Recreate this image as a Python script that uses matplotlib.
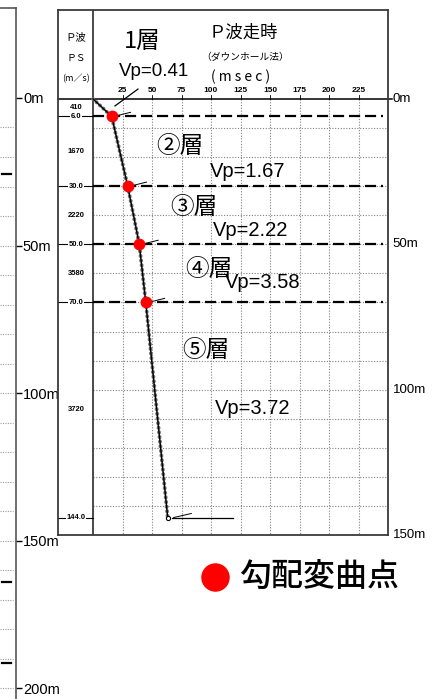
import matplotlib
matplotlib.use("Agg")
import matplotlib.pyplot as plt

plt.rcParams["font.family"] = ["Noto Sans CJK JP", "DejaVu Sans"]

# layer boundaries (m) and first-arrival time there (msec)
break_depth = [0, 6.0, 30.0, 50.0, 70.0, 144.0]
break_time = [0, 15.8, 29.4, 39.2, 44.7, 63.3]
layer_vp = [410, 1670, 2220, 3580, 3720]  # m/s
layer_names = ["1層", "②層", "③層", "④層", "⑤層"]
time_ticks = [25, 50, 75, 100, 125, 150, 175, 200, 225]
depth_ticks = [0, 50, 100, 150]
strip_ticks = [0, 50, 100, 150, 200]
strip_marks = [25.8, 164, 191.5]
legend_label = "勾配変曲点"

# text placement (ms, m)
name_pos = [(41.5, -19.6), (73.7, 16.5), (85.6, 37.5), (98.3, 58.8), (95.8, 86.6)]
vp_pos = [(51.3, -9.6), (131.4, 25.1), (133.9, 45.4), (144.1, 63.2), (135.6, 106.5)]

W, H = 444, 699
fig = plt.figure(figsize=(W / 100, H / 100), dpi=100)


def box(x0, y0, x1, y1):
    return [x0 / W, 1 - y1 / H, (x1 - x0) / W, (y1 - y0) / H]


# ---- left depth strip
sx = fig.add_axes(box(0, 8, 16, 699))
sx.set_xlim(0, 1)
sx.set_ylim(203.7, -30.5)
sx.spines["left"].set_visible(False)
sx.spines["bottom"].set_visible(False)
for s in ("top", "right"):
    sx.spines[s].set_color("#555555")
    sx.spines[s].set_linewidth(1.2)
sx.set_xticks([])
sx.yaxis.tick_right()
sx.set_yticks(strip_ticks)
sx.set_yticklabels([f"{d}m" for d in strip_ticks], family="Liberation Sans", fontsize=10.5)
sx.tick_params(axis="y", length=4, width=1, pad=1)
for d in range(10, 204, 10):
    sx.plot([0.0, 0.8], [d, d], color="0.6", lw=0.8, ls=(0, (1, 1.2)))
for d in strip_marks:
    sx.plot([0.15, 0.7], [d, d], color="k", lw=1.6)

# ---- main chart
ax = fig.add_axes(box(58, 10, 388, 535))
ax.set_xlim(-29.7, 250)
ax.set_ylim(150, -30.6)
ax.set_xticks([])
ax.set_yticks([])
for s in ax.spines.values():
    s.set_linewidth(1.3)
    s.set_color("#3a3a3a")

for t in time_ticks:
    ax.plot([t, t], [0, 150], color="0.5", lw=0.8, ls=(0, (1, 1.5)))
    ax.plot([t, t], [-1.5, 0], color="k", lw=0.6)
    ax.text(t, -1.6, str(t), ha="center", va="bottom", fontsize=6,
            fontweight="bold", family="Liberation Sans")
for d in range(10, 150, 10):
    ax.plot([0, 250], [d, d], color="0.5", lw=0.8, ls=(0, (1, 1.5)))

ax.plot([-29.7, 253], [0, 0], color="k", lw=1.1, clip_on=False)
ax.axvline(0, color="#3a3a3a", lw=1.3)

# layer boundaries
for d in break_depth[1:-1]:
    ax.plot([0, 246], [d, d], color="k", lw=1.6, ls=(0, (5, 2.2)))
for d in break_depth[1:]:
    ax.plot([-29.7, 0], [d, d], color="k", lw=0.8)
    ax.text(-14.4, d, f"{d:.1f}", ha="center", va="center", fontsize=5.5,
            fontweight="bold", family="Liberation Sans",
            bbox=dict(fc="white", ec="none", pad=0.6))
for i, v in enumerate(layer_vp):
    mid = (break_depth[i] + break_depth[i + 1]) / 2
    ax.text(-14.4, mid, str(v), ha="center", va="center", fontsize=5.5,
            fontweight="bold", family="Liberation Sans")

# column header
ax.text(-14.4, -21.3, "Ｐ波", ha="center", va="center", fontsize=7.5)
ax.text(-14.4, -14.1, "ＰＳ", ha="center", va="center", fontsize=7)
ax.text(-14.4, -6.9, "(m／s)", ha="center", va="center", fontsize=6.5)

# chart header
ax.text(127, -22.7, "Ｐ波走時", ha="center", va="center", fontsize=12.5)
ax.text(128.8, -14.4, "（ダウンホール法）", ha="center", va="center", fontsize=7)
ax.text(125.4, -7.6, "( m s e c )", ha="center", va="center", fontsize=10)

# travel-time curve
ax.plot(break_time, break_depth, color="0.45", lw=2.8, ls=(0, (0.1, 1.1)),
        dash_capstyle="round")
ax.plot(break_time, break_depth, color="k", lw=1.0)
ax.plot(break_time[-1], break_depth[-1], "o", mfc="white", mec="k", ms=3, mew=0.8)
ax.plot(break_time[1:-1], break_depth[1:-1], "o", color="red", ms=7.5, zorder=6)

# pick marks
for t, d in zip(break_time[1:-1], break_depth[1:-1]):
    ax.plot([t + 2, t + 16], [d, d - 1.4], color="k", lw=0.7)
t_end, d_end = break_time[-1], break_depth[-1]
ax.plot([t_end + 4, t_end + 55], [d_end, d_end], color="k", lw=0.9)
ax.plot([t_end + 5, t_end + 20], [d_end, d_end - 1.4], color="k", lw=0.7)

# pointer from first-layer label
ax.plot([38.1, 18.6], [-3.4, 2.4], color="k", lw=0.9)

# layer labels
for i, name in enumerate(layer_names):
    x, y = name_pos[i]
    ax.text(x, y, name, ha="center", va="center", fontsize=17)
    x, y = vp_pos[i]
    ax.text(x, y, f"Vp={layer_vp[i] / 1000:.2f}", ha="center", va="center",
            fontsize=13.5 if i == 0 else 14.5, family="Liberation Sans")

# right depth labels
for d in depth_ticks:
    ax.text(254, d, f"{d}m", ha="left", va="center", fontsize=9.5,
            family="Liberation Sans", clip_on=False)

# legend
ax.plot(103.4, 164.4, "o", color="red", ms=19.5, clip_on=False)
ax.text(124, 164.4, legend_label, ha="left", va="center", fontsize=23,
        fontweight="medium", clip_on=False)

fig.savefig("out.png", dpi=100)
